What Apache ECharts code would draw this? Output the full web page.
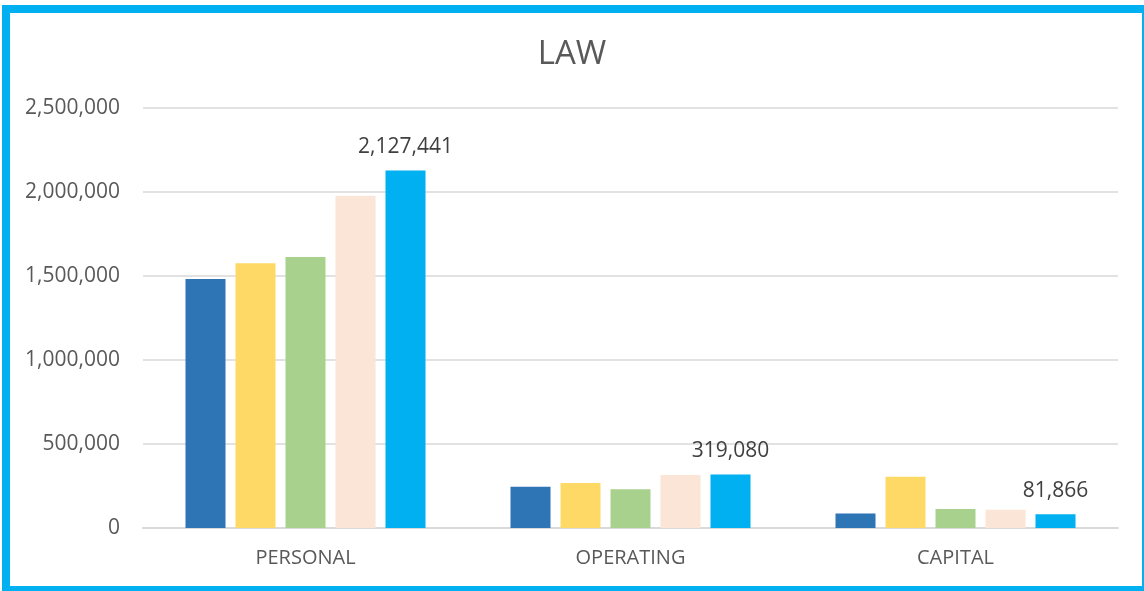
<!DOCTYPE html>
<html>
<head>
<meta charset="utf-8">
<script src="https://cdn.jsdelivr.net/npm/echarts@6/dist/echarts.min.js"></script>
<style>
  html, body { margin: 0; padding: 0; background: #fff; }
  #frame {
    position: absolute; left: 2px; top: 5px; width: 1132px; height: 573px;
    border-style: solid; border-color: #00B0F0;
    border-width: 8px 2px 6px 8px;
  }
  #chart { position: absolute; left: 0; top: 0; width: 1144px; height: 591px; }
</style>
</head>
<body>
<div id="frame"></div>
<div id="chart"></div>
<script>
const categories = ['PERSONAL', 'OPERATING', 'CAPITAL']
const series1 = [1482000, 246000, 86000]
const series2 = [1576000, 268000, 305000]
const series3 = [1613000, 230000, 113000]
const series4 = [1978000, 315000, 109000]
const series5 = [2127441, 319080, 81866]
const yTicks = { min: 0, max: 2500000, interval: 500000 }

const colors = ['#2E75B6', '#FFD966', '#A9D18E', '#FBE5D6', '#00B0F0']
const fontFamily = '"Open Sans", "Noto Sans", sans-serif'

const fmt = v => Math.round(v).toLocaleString('en-US')

const chart = echarts.init(document.getElementById('chart'))

function makeSeries (data, i, withLabel) {
  return {
    type: 'bar',
    data: data,
    barWidth: 40,
    barGap: '25%',
    itemStyle: { color: colors[i] },
    label: {
      show: withLabel,
      position: 'top',
      distance: 13,
      color: '#404040',
      fontSize: 21,
      fontFamily: fontFamily,
      formatter: p => fmt(p.value)
    }
  }
}

chart.setOption({
  animation: false,
  title: {
    text: 'LAW',
    left: 'center',
    top: 33,
    textStyle: { color: '#595959', fontSize: 33, fontWeight: 'normal', fontFamily: fontFamily }
  },
  grid: { left: 143, right: 26, top: 108, bottom: 63 },
  xAxis: {
    type: 'category',
    data: categories,
    axisLine: { lineStyle: { color: '#D9D9D9', width: 2 } },
    axisTick: { show: false },
    axisLabel: { color: '#595959', fontSize: 20, fontFamily: fontFamily, margin: 20 }
  },
  yAxis: {
    type: 'value',
    min: yTicks.min,
    max: yTicks.max,
    interval: yTicks.interval,
    axisLine: { show: false },
    axisTick: { show: false },
    splitLine: { lineStyle: { color: '#D9D9D9', width: 1.5 } },
    axisLabel: { color: '#595959', fontSize: 21, fontFamily: fontFamily, margin: 23, formatter: fmt }
  },
  series: [
    makeSeries(series1, 0, false),
    makeSeries(series2, 1, false),
    makeSeries(series3, 2, false),
    makeSeries(series4, 3, false),
    makeSeries(series5, 4, true)
  ]
})
</script>
</body>
</html>
